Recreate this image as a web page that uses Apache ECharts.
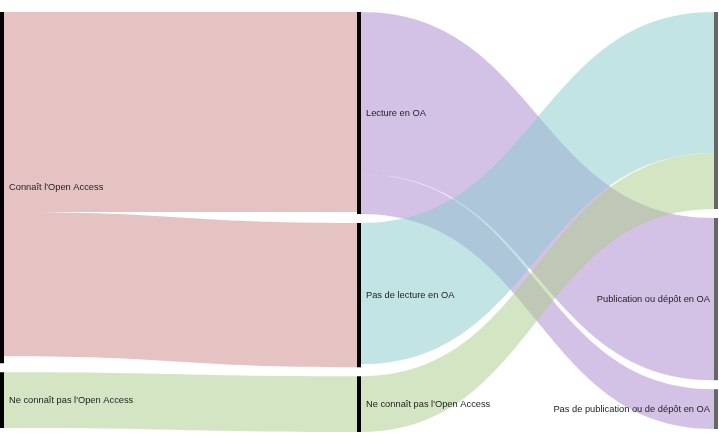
<!DOCTYPE html>
<html>
<head>
<meta charset="utf-8">
<script src="https://cdn.jsdelivr.net/npm/echarts@6/dist/echarts.min.js"></script>
<style>
  html, body { margin: 0; padding: 0; background: #fff; }
  #chart { width: 719px; height: 441px; }
</style>
</head>
<body>
<div id="chart"></div>
<script>
// Nodes (column order top to bottom). The middle "Ne connaît pas" node carries a trailing space to keep names unique.
const nodeNames = [
  "Connaît l'Open Access",
  "Ne connaît pas l'Open Access",
  "Lecture en OA",
  "Pas de lecture en OA",
  "Ne connaît pas l'Open Access ",
  "N/A",
  "Publication ou dépôt en OA",
  "Pas de publication ou de dépôt en OA"
];
const nodeColumn = [0, 0, 1, 1, 1, 2, 2, 2];
// Node size (null = sum of its links)
const nodeValues = [353, null, null, null, null, null, null, null];
const hiddenLabels = ["N/A"];

// Links
const linkSources = [
  "Connaît l'Open Access",
  "Connaît l'Open Access",
  "Ne connaît pas l'Open Access",
  "Lecture en OA",
  "Lecture en OA",
  "Pas de lecture en OA",
  "Ne connaît pas l'Open Access "
];
const linkTargets = [
  "Lecture en OA",
  "Pas de lecture en OA",
  "Ne connaît pas l'Open Access ",
  "Publication ou dépôt en OA",
  "Pas de publication ou de dépôt en OA",
  "N/A",
  "N/A"
];
const linkValues = [201, 145, 56, 163, 40, 142, 56];
const linkColorKeys = ["pink", "pink", "green", "purple", "purple", "cyan", "green"];

const palette = {
  pink: '#cb8787',
  green: '#a9cb87',
  purple: '#a985cd',
  cyan: '#87c9cb'
};

const nodes = nodeNames.map((n, i) => {
  const d = {
    name: n,
    itemStyle: { color: nodeColumn[i] === 2 ? '#666666' : '#000000', borderWidth: 0 },
    label: {
      show: hiddenLabels.indexOf(n) < 0,
      position: nodeColumn[i] === 2 ? 'left' : 'right',
      distance: nodeColumn[i] === 2 ? 4 : 5,
      formatter: n.trim()
    }
  };
  if (nodeValues[i] != null) d.value = nodeValues[i];
  return d;
});

const links = linkSources.map((s, i) => ({
  source: s,
  target: linkTargets[i],
  value: linkValues[i],
  lineStyle: { color: palette[linkColorKeys[i]], opacity: 0.5, curveness: 0.5 }
}));

const chart = echarts.init(document.getElementById('chart'), null, { renderer: 'canvas' });
chart.setOption({
  backgroundColor: '#ffffff',
  animation: false,
  series: [{
    type: 'sankey',
    left: 0,
    right: 1,
    top: 12,
    bottom: 9,
    nodeWidth: 4,
    nodeGap: 9,
    layoutIterations: 0,
    nodeAlign: 'justify',
    draggable: false,
    emphasis: { disabled: true },
    label: {
      color: '#222222',
      fontSize: 9.3,
      fontFamily: 'Liberation Sans, Arial, Helvetica, sans-serif'
    },
    data: nodes,
    links: links
  }]
});
</script>
</body>
</html>
